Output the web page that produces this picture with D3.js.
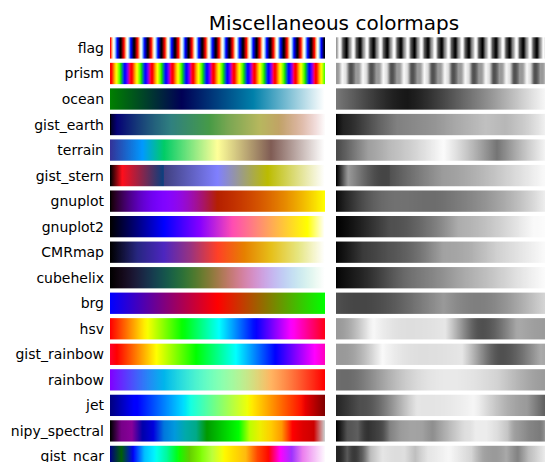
<!DOCTYPE html>
<html>
<head>
<meta charset="utf-8">
<script src="https://cdn.jsdelivr.net/npm/d3@7"></script>
<style>
  html, body { margin: 0; padding: 0; background: #ffffff; }
  svg { display: block; }
</style>
</head>
<body>
<div id="chart"></div>
<script>
// ---------------- data ----------------
const chartTitle = "Miscellaneous colormaps";
const cmapNames = ["flag", "prism", "ocean", "gist_earth", "terrain", "gist_stern",
  "gnuplot", "gnuplot2", "CMRmap", "cubehelix", "brg", "hsv", "gist_rainbow",
  "rainbow", "jet", "nipy_spectral", "gist_ncar"];

// segment data: [x, valueFromLeft, valueFromRight]
const oceanData = {
  r: [[0, 0, 0], [0.667, 0, 0], [1, 1, 1]],
  g: [[0, 0.5, 0.5], [0.333, 0, 0], [1, 1, 1]],
  b: [[0, 0, 0], [1, 1, 1]]
};
const gistEarthData = {
  r: [[0, 0, 0], [0.2824, 0.1882, 0.1882], [0.4588, 0.2714, 0.2714], [0.5490, 0.4719, 0.4719],
      [0.6980, 0.7176, 0.7176], [0.7882, 0.7553, 0.7553], [1, 0.9922, 0.9922]],
  g: [[0, 0, 0], [0.0275, 0, 0], [0.1098, 0.1893, 0.1893], [0.1647, 0.3035, 0.3035],
      [0.2078, 0.3841, 0.3841], [0.2824, 0.5020, 0.5020], [0.5216, 0.6397, 0.6397],
      [0.6980, 0.7171, 0.7171], [0.7882, 0.6392, 0.6392], [0.7922, 0.6413, 0.6413],
      [0.8000, 0.6447, 0.6447], [0.8078, 0.6481, 0.6481], [0.8157, 0.6549, 0.6549],
      [0.8667, 0.6991, 0.6991], [0.8745, 0.7103, 0.7103], [0.8824, 0.7216, 0.7216],
      [0.8902, 0.7323, 0.7323], [0.8980, 0.7430, 0.7430], [0.9412, 0.8275, 0.8275],
      [0.9569, 0.8635, 0.8635], [0.9647, 0.8816, 0.8816], [0.9961, 0.9733, 0.9733],
      [1, 0.9843, 0.9843]],
  b: [[0, 0, 0], [0.0039, 0.1684, 0.1684], [0.0078, 0.2212, 0.2212], [0.0275, 0.4329, 0.4329],
      [0.0314, 0.4549, 0.4549], [0.2824, 0.5004, 0.5004], [0.4667, 0.2748, 0.2748],
      [0.5451, 0.3205, 0.3205], [0.7843, 0.3961, 0.3961], [0.8941, 0.6651, 0.6651],
      [1, 0.9843, 0.9843]]
};
const terrainStops = [[0.00, [0.2, 0.2, 0.6]], [0.15, [0.0, 0.6, 1.0]], [0.25, [0.0, 0.8, 0.4]],
  [0.50, [1.0, 1.0, 0.6]], [0.75, [0.5, 0.36, 0.33]], [1.00, [1.0, 1.0, 1.0]]];
const gistSternData = {
  r: [[0, 0, 0], [0.0547, 1, 1], [0.25, 0.027, 0.25], [1, 1, 1]],
  g: [[0, 0, 0], [1, 1, 1]],
  b: [[0, 0, 0], [0.5, 1, 1], [0.735, 0, 0], [1, 1, 1]]
};
const cmrData = {
  r: [[0, 0, 0], [0.125, 0.15, 0.15], [0.25, 0.3, 0.3], [0.375, 0.6, 0.6], [0.5, 1, 1],
      [0.625, 0.9, 0.9], [0.75, 0.9, 0.9], [0.875, 0.9, 0.9], [1, 1, 1]],
  g: [[0, 0, 0], [0.125, 0.15, 0.15], [0.25, 0.15, 0.15], [0.375, 0.2, 0.2], [0.5, 0.25, 0.25],
      [0.625, 0.5, 0.5], [0.75, 0.75, 0.75], [0.875, 0.9, 0.9], [1, 1, 1]],
  b: [[0, 0, 0], [0.125, 0.5, 0.5], [0.25, 0.75, 0.75], [0.375, 0.5, 0.5], [0.5, 0.15, 0.15],
      [0.625, 0, 0], [0.75, 0.1, 0.1], [0.875, 0.5, 0.5], [1, 1, 1]]
};
const brgData = {
  r: [[0, 0, 0], [0.5, 1, 1], [1, 0, 0]],
  g: [[0, 0, 0], [0.5, 0, 0], [1, 1, 1]],
  b: [[0, 1, 1], [0.5, 0, 0], [1, 0, 0]]
};
const hsvData = {
  r: [[0, 1, 1], [0.158730, 1, 1], [0.174603, 0.96875, 0.96875], [0.333333, 0.03125, 0.03125],
      [0.349206, 0, 0], [0.666667, 0, 0], [0.682540, 0.03125, 0.03125],
      [0.841270, 0.96875, 0.96875], [0.857143, 1, 1], [1, 1, 1]],
  g: [[0, 0, 0], [0.158730, 0.9375, 0.9375], [0.174603, 1, 1], [0.507937, 1, 1],
      [0.666667, 0.0625, 0.0625], [0.682540, 0, 0], [1, 0, 0]],
  b: [[0, 0, 0], [0.333333, 0, 0], [0.349206, 0.0625, 0.0625], [0.507937, 1, 1],
      [0.841270, 1, 1], [0.857143, 0.9375, 0.9375], [1, 0.09375, 0.09375]]
};
const gistRainbowStops = [[0.000, [1.00, 0.00, 0.16]], [0.030, [1.00, 0.00, 0.00]],
  [0.215, [1.00, 1.00, 0.00]], [0.400, [0.00, 1.00, 0.00]], [0.586, [0.00, 1.00, 1.00]],
  [0.770, [0.00, 0.00, 1.00]], [0.954, [1.00, 0.00, 1.00]], [1.000, [1.00, 0.00, 0.75]]];
const jetData = {
  r: [[0, 0, 0], [0.35, 0, 0], [0.66, 1, 1], [0.89, 1, 1], [1, 0.5, 0.5]],
  g: [[0, 0, 0], [0.125, 0, 0], [0.375, 1, 1], [0.64, 1, 1], [0.91, 0, 0], [1, 0, 0]],
  b: [[0, 0.5, 0.5], [0.11, 1, 1], [0.34, 1, 1], [0.65, 0, 0], [1, 0, 0]]
};
const nipyData = {
  r: [[0, 0, 0], [0.05, 0.4667, 0.4667], [0.10, 0.5333, 0.5333], [0.15, 0, 0], [0.20, 0, 0],
      [0.25, 0, 0], [0.30, 0, 0], [0.35, 0, 0], [0.40, 0, 0], [0.45, 0, 0], [0.50, 0, 0],
      [0.55, 0, 0], [0.60, 0, 0], [0.65, 0.7333, 0.7333], [0.70, 0.9333, 0.9333],
      [0.75, 1, 1], [0.80, 1, 1], [0.85, 1, 1], [0.90, 0.8667, 0.8667], [0.95, 0.8, 0.8], [1, 0.8, 0.8]],
  g: [[0, 0, 0], [0.05, 0, 0], [0.10, 0, 0], [0.15, 0, 0], [0.20, 0, 0], [0.25, 0.4667, 0.4667],
      [0.30, 0.6, 0.6], [0.35, 0.6667, 0.6667], [0.40, 0.6667, 0.6667], [0.45, 0.6, 0.6],
      [0.50, 0.7333, 0.7333], [0.55, 0.8667, 0.8667], [0.60, 1, 1], [0.65, 1, 1],
      [0.70, 0.9333, 0.9333], [0.75, 0.8, 0.8], [0.80, 0.6, 0.6], [0.85, 0, 0], [0.90, 0, 0],
      [0.95, 0, 0], [1, 0.8, 0.8]],
  b: [[0, 0, 0], [0.05, 0.5333, 0.5333], [0.10, 0.6, 0.6], [0.15, 0.6667, 0.6667],
      [0.20, 0.8667, 0.8667], [0.25, 0.8667, 0.8667], [0.30, 0.8667, 0.8667],
      [0.35, 0.6667, 0.6667], [0.40, 0.5333, 0.5333], [0.45, 0, 0], [0.50, 0, 0], [0.55, 0, 0],
      [0.60, 0, 0], [0.65, 0, 0], [0.70, 0, 0], [0.75, 0, 0], [0.80, 0, 0], [0.85, 0, 0],
      [0.90, 0, 0], [0.95, 0, 0], [1, 0.8, 0.8]]
};
const gistNcarData = {
  r: [[0, 0, 0], [0.3098, 0, 0], [0.3725, 0.3993, 0.3993], [0.4235, 0.5003, 0.5003],
      [0.5333, 1, 1], [0.7922, 1, 1], [0.8471, 0.6218, 0.6218], [0.8980, 0.9235, 0.9235],
      [1, 0.9961, 0.9961]],
  g: [[0, 0, 0], [0.0510, 0.3722, 0.3722], [0.1059, 0, 0], [0.1569, 0.7202, 0.7202],
      [0.1608, 0.7537, 0.7537], [0.1647, 0.7752, 0.7752], [0.2157, 1, 1], [0.2588, 0.9804, 0.9804],
      [0.2706, 0.9804, 0.9804], [0.3176, 1, 1], [0.3686, 0.8081, 0.8081], [0.4275, 1, 1],
      [0.5216, 1, 1], [0.6314, 0.7292, 0.7292], [0.6863, 0.2796, 0.2796], [0.7451, 0, 0],
      [0.7922, 0, 0], [0.8431, 0.1753, 0.1753], [0.8980, 0.5, 0.5], [1, 0.9725, 0.9725]],
  b: [[0, 0.502, 0.502], [0.0510, 0.0222, 0.0222], [0.1098, 1, 1], [0.2039, 1, 1],
      [0.2627, 0.6145, 0.6145], [0.3216, 0, 0], [0.4157, 0, 0], [0.4745, 0.2342, 0.2342],
      [0.5333, 0, 0], [0.5804, 0, 0], [0.6314, 0.0549, 0.0549], [0.6902, 0, 0], [0.7373, 0, 0],
      [0.7922, 0.9738, 0.9738], [0.8, 1, 1], [0.8431, 1, 1], [0.8980, 0.9341, 0.9341],
      [1, 0.9961, 0.9961]]
};

// functional colormap definitions (as in matplotlib)
const PI = Math.PI;
const gnuplotFuncs = {
  sqrt: x => Math.sqrt(x),
  cube: x => x * x * x,
  sin2pi: x => Math.sin(x * 2 * PI),
  f30: x => x / 0.32 - 0.78125,
  f31: x => 2 * x - 0.84,
  f32: x => x < 0.25 ? 4 * x : (x < 0.92 ? -2 * x + 1.84 : x / 0.08 - 11.5),
  f33: x => Math.abs(2 * x - 0.5),
  sinpi: x => Math.sin(x * PI),
  cospi2: x => Math.cos(x * PI / 2)
};
const flagFuncs = [
  x => 0.75 * Math.sin((x * 31.5 + 0.25) * PI) + 0.5,
  x => Math.sin(x * 31.5 * PI),
  x => 0.75 * Math.sin((x * 31.5 - 0.25) * PI) + 0.5
];
const prismFuncs = [
  x => 0.75 * Math.sin((x * 20.9 + 0.25) * PI) + 0.67,
  x => 0.75 * Math.sin((x * 20.9 - 0.25) * PI) + 0.33,
  x => -1.1 * Math.sin((x * 20.9) * PI)
];
function cubehelixFuncs(gamma = 1.0, s = 0.5, r = -1.5, h = 1.0) {
  const f = (p0, p1) => x => {
    const xg = Math.pow(x, gamma);
    const a = h * xg * (1 - xg) / 2;
    const phi = 2 * PI * (s / 3 + r * x);
    return xg + a * (p0 * Math.cos(phi) + p1 * Math.sin(phi));
  };
  return [f(-0.14861, 1.78277), f(-0.29227, -0.90649), f(1.97294, 0.0)];
}

// --------------- colormap machinery ---------------
const N = 256;
function stopsToSeg(stops) {
  return {
    r: stops.map(s => [s[0], s[1][0], s[1][0]]),
    g: stops.map(s => [s[0], s[1][1], s[1][1]]),
    b: stops.map(s => [s[0], s[1][2], s[1][2]])
  };
}
function segLut(seg) {
  const xs = seg.map(d => d[0]), y0 = seg.map(d => d[1]), y1 = seg.map(d => d[2]);
  const lut = new Array(N);
  lut[0] = y1[0];
  lut[N - 1] = y0[y0.length - 1];
  for (let i = 1; i < N - 1; i++) {
    const xi = i / (N - 1);
    let ind = d3.bisectLeft(xs, xi);
    const dist = (xi - xs[ind - 1]) / (xs[ind] - xs[ind - 1]);
    lut[i] = dist * (y0[ind] - y1[ind - 1]) + y1[ind - 1];
  }
  return lut;
}
function funcLut(f) {
  return d3.range(N).map(i => Math.max(0, Math.min(1, f(i / (N - 1)))));
}
function buildFromSeg(seg) {
  const r = segLut(seg.r), g = segLut(seg.g), b = segLut(seg.b);
  return d3.range(N).map(i => [r[i], g[i], b[i]]);
}
function buildFromFuncs(fs) {
  const r = funcLut(fs[0]), g = funcLut(fs[1]), b = funcLut(fs[2]);
  return d3.range(N).map(i => [r[i], g[i], b[i]]);
}
const G = gnuplotFuncs;
const cmapLuts = {
  flag: buildFromFuncs(flagFuncs),
  prism: buildFromFuncs(prismFuncs),
  ocean: buildFromSeg(oceanData),
  gist_earth: buildFromSeg(gistEarthData),
  terrain: buildFromSeg(stopsToSeg(terrainStops)),
  gist_stern: buildFromSeg(gistSternData),
  gnuplot: buildFromFuncs([G.sqrt, G.cube, G.sin2pi]),
  gnuplot2: buildFromFuncs([G.f30, G.f31, G.f32]),
  CMRmap: buildFromSeg(cmrData),
  cubehelix: buildFromFuncs(cubehelixFuncs()),
  brg: buildFromSeg(brgData),
  hsv: buildFromSeg(hsvData),
  gist_rainbow: buildFromSeg(stopsToSeg(gistRainbowStops)),
  rainbow: buildFromFuncs([G.f33, G.sinpi, G.cospi2]),
  jet: buildFromSeg(jetData),
  nipy_spectral: buildFromSeg(nipyData),
  gist_ncar: buildFromSeg(gistNcarData)
};

// --------------- CAM02-UCS lightness ---------------
function matMul(A, B) {
  return A.map(row => B[0].map((_, j) => row.reduce((s, v, k) => s + v * B[k][j], 0)));
}
function matVec(A, v) { return A.map(row => row[0] * v[0] + row[1] * v[1] + row[2] * v[2]); }
const M_SRGB = [[0.4124, 0.3576, 0.1805], [0.2126, 0.7152, 0.0722], [0.0193, 0.1192, 0.9505]];
const M_CAT02 = [[0.7328, 0.4296, -0.1624], [-0.7036, 1.6975, 0.0061], [0.0030, 0.0136, 0.9834]];
const M_CAT02_INV = [[1.096124, -0.278869, 0.182745], [0.454369, 0.473533, 0.072098], [-0.009628, -0.005698, 1.015326]];
const M_HPE = [[0.38971, 0.68898, -0.07868], [-0.22981, 1.18340, 0.04641], [0, 0, 1]];
const camVC = (() => {
  const XYZw = [95.047, 100, 108.883], Yw = 100, Yb = 20, LA = (64 / PI) / 5;
  const F = 1.0, c = 0.69;
  const k = 1 / (5 * LA + 1);
  const FL = 0.2 * Math.pow(k, 4) * (5 * LA) + 0.1 * Math.pow(1 - Math.pow(k, 4), 2) * Math.cbrt(5 * LA);
  const n = Yb / Yw, z = 1.48 + Math.sqrt(n), Nbb = 0.725 * Math.pow(1 / n, 0.2);
  let D = F * (1 - (1 / 3.6) * Math.exp((-LA - 42) / 92));
  D = Math.max(0, Math.min(1, D));
  const RGBw = matVec(M_CAT02, XYZw);
  const DRGB = RGBw.map(v => D * Yw / v + 1 - D);
  const diagD = [[DRGB[0], 0, 0], [0, DRGB[1], 0], [0, 0, DRGB[2]]];
  const M = matMul(matMul(M_HPE, M_CAT02_INV), matMul(diagD, M_CAT02));
  const comp = v => {
    const t = Math.pow(FL * Math.abs(v) / 100, 0.42);
    return 400 * Math.sign(v) * t / (27.13 + t) + 0.1;
  };
  const Aof = p => (2 * p[0] + p[1] + p[2] / 20 - 0.305) * Nbb;
  const Aw = Aof(matVec(M, XYZw).map(comp));
  return { M, comp, Aof, Aw, cz: c * z };
})();
function lightnessJp(rgb) {
  const lin = rgb.map(v => v <= 0.04045 ? v / 12.92 : Math.pow((v + 0.055) / 1.055, 2.4));
  const XYZ = matVec(M_SRGB, lin).map(v => v * 100);
  const p = matVec(camVC.M, XYZ).map(camVC.comp);
  const A = camVC.Aof(p);
  const J = 100 * Math.pow(Math.max(A, 0) / camVC.Aw, camVC.cz);
  return 1.7 * J / (1 + 0.007 * J);
}
function grayOf(rgb) {
  const g = Math.max(0, Math.min(1, lightnessJp(rgb) / 100));
  const idx = Math.min(N - 1, Math.floor(g * N));
  return idx / (N - 1);
}

// --------------- drawing ---------------
const W = 545, H = 462;
const svg = d3.select("#chart").append("svg").attr("width", W).attr("height", H)
  .style("font-family", "'DejaVu Sans', sans-serif");

const xLeft = d3.scaleLinear().domain([0, 1]).range([110, 325]);
const xRight = d3.scaleLinear().domain([0, 1]).range([336, 551]);
const rowStep = 25.53, barH = 21.3;
const y = d3.scaleBand().domain(cmapNames)
  .range([37.3, 37.3 + rowStep * (cmapNames.length - 1) + barH])
  .paddingInner(1 - barH / rowStep).paddingOuter(0);

const defs = svg.append("defs");
const toCss = c => d3.rgb(c[0] * 255, c[1] * 255, c[2] * 255).formatHex();

cmapNames.forEach((name, k) => {
  const lut = cmapLuts[name];
  const gradC = defs.append("linearGradient").attr("id", "gc" + k)
    .attr("x1", 0).attr("x2", 1).attr("y1", 0).attr("y2", 0);
  gradC.selectAll("stop").data(lut).join("stop")
    .attr("offset", (d, i) => ((i + 0.5) / N))
    .attr("stop-color", d => toCss(d));
  const gradG = defs.append("linearGradient").attr("id", "gg" + k)
    .attr("x1", 0).attr("x2", 1).attr("y1", 0).attr("y2", 0);
  gradG.selectAll("stop").data(lut).join("stop")
    .attr("offset", (d, i) => ((i + 0.5) / N))
    .attr("stop-color", d => { const g = grayOf(d); return toCss([g, g, g]); });
});

const rows = svg.append("g").selectAll("g").data(cmapNames).join("g");
rows.append("rect")
  .attr("x", xLeft(0)).attr("y", d => y(d))
  .attr("width", xLeft(1) - xLeft(0)).attr("height", y.bandwidth())
  .attr("fill", (d, i) => `url(#gc${i})`);
rows.append("rect")
  .attr("x", xRight(0)).attr("y", d => y(d))
  .attr("width", xRight(1) - xRight(0)).attr("height", y.bandwidth())
  .attr("fill", (d, i) => `url(#gg${i})`);
rows.append("text")
  .attr("x", xLeft(0) - 6)
  .attr("y", d => y(d) + y.bandwidth() / 2 + 5)
  .attr("text-anchor", "end")
  .attr("font-size", 14)
  .attr("fill", "#000")
  .text(d => d);

svg.append("text")
  .attr("x", 334).attr("y", 29.5)
  .attr("text-anchor", "middle")
  .attr("font-size", 20)
  .attr("fill", "#000")
  .text(chartTitle);
</script>
</body>
</html>
